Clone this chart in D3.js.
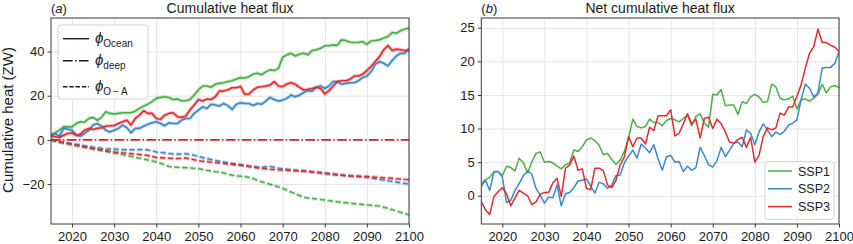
<!DOCTYPE html>
<html>
<head>
<meta charset="utf-8">
<script src="https://cdn.jsdelivr.net/npm/d3@7"></script>
<style>
  body { margin: 0; background: #fff; }
  text { font-family: "Liberation Sans", Arial, sans-serif; fill: #1a1a1a; }
</style>
</head>
<body>
<div id="chart"></div>
<script>
// ---------- DATA ----------
const years = d3.range(2015, 2101);
const xTicks = [2020, 2030, 2040, 2050, 2060, 2070, 2080, 2090, 2100];
const yTicksA = [-20, 0, 20, 40];
const yTicksB = [0, 5, 10, 15, 20, 25];
const scenarios = ["SSP1", "SSP2", "SSP3"];

// panel (a): cumulative ocean heat uptake
const oceanSSP1 = [
	2.1, 3.2, 4.4, 5.9, 5.9, 5.9, 7.4, 8.2, 8.0, 9.7,
	10.2, 8.9, 10.2, 12.7, 12.0, 11.7, 12.0, 12.3, 12.3, 12.3,
	13.0, 14.2, 15.3, 16.2, 17.3, 18.8, 19.2, 19.5, 19.1, 18.3,
	18.5, 17.7, 17.7, 18.3, 20.3, 22.6, 24.4, 24.4, 23.8, 25.2,
	25.6, 25.9, 26.4, 26.8, 27.6, 28.2, 28.0, 28.6, 29.8, 30.2,
	29.5, 30.8, 31.7, 31.4, 32.4, 37.4, 38.5, 39.2, 38.0, 38.8,
	39.2, 38.5, 40.5, 40.8, 41.5, 42.6, 42.7, 43.0, 42.9, 45.3,
	45.0, 44.2, 44.1, 44.2, 44.5, 43.3, 44.8, 45.0, 45.3, 46.1,
	46.8, 48.6, 48.3, 49.4, 50.2, 50.5
];
const oceanSSP2 = [
	2.1, 2.9, 1.7, 5.2, 4.8, 4.4, 2.1, 1.7, 2.9, 4.4,
	6.7, 7.4, 6.2, 4.4, 3.6, 4.4, 5.2, 6.7, 5.5, 3.2,
	5.2, 5.2, 6.2, 7.1, 7.7, 8.2, 7.4, 6.4, 7.7, 7.4,
	7.4, 8.9, 9.7, 9.7, 12.0, 13.5, 15.0, 14.2, 16.1, 15.8,
	15.3, 16.5, 15.5, 13.8, 16.1, 16.8, 16.5, 16.5, 15.6, 16.5,
	16.1, 17.6, 19.2, 18.3, 17.6, 18.0, 18.8, 20.3, 19.5, 20.3,
	21.4, 22.3, 22.1, 23.8, 24.4, 23.3, 24.4, 26.4, 26.4, 25.2,
	25.6, 25.9, 25.9, 26.8, 28.3, 28.9, 30.9, 34.2, 35.5, 34.7,
	33.5, 35.9, 38.0, 39.2, 39.2, 41.5
];
const oceanSSP3 = [
	1.7, 1.4, 1.1, 2.1, 2.9, 3.2, 2.1, 2.6, 4.4, 5.2,
	4.7, 5.2, 5.5, 6.2, 6.4, 6.5, 7.4, 8.2, 8.9, 6.7,
	9.7, 11.2, 13.2, 12.0, 12.0, 9.7, 9.2, 11.2, 12.0, 12.3,
	10.5, 10.2, 10.8, 13.5, 15.8, 18.3, 17.6, 18.5, 18.3, 19.5,
	22.1, 22.1, 22.7, 23.6, 23.6, 24.2, 20.6, 20.8, 22.6, 23.8,
	24.1, 24.4, 24.8, 26.4, 24.4, 24.1, 25.3, 25.9, 25.2, 23.8,
	22.6, 22.9, 23.3, 23.8, 23.3, 20.8, 22.3, 24.4, 26.4, 26.8,
	26.8, 27.4, 28.9, 28.9, 29.8, 31.4, 33.2, 35.5, 37.7, 40.8,
	42.7, 40.5, 41.1, 40.8, 40.5, 40.5
];
const deepFlux = [
	0, 0, 0, 0, 0, 0, 0, 0, 0, 0,
	0, 0, 0, 0, 0, 0, 0, 0, 0, 0,
	0, 0, 0, 0, 0, 0, 0, 0, 0, 0,
	0, 0, 0, 0, 0, 0, 0, 0, 0, 0,
	0, 0, 0, 0, 0, 0, 0, 0, 0, 0,
	0, 0, 0, 0, 0, 0, 0, 0, 0, 0,
	0, 0, 0, 0, 0, 0, 0, 0, 0, 0,
	0, 0, 0, 0, 0, 0, 0, 0, 0, 0,
	0, 0, 0, 0, 0, 0
];
const oaSSP1 = [
	0, -0.4, -1.0, -1.5, -1.9, -2.3, -2.6, -2.9, -3.3, -3.7,
	-4.0, -4.4, -4.8, -5.2, -5.6, -6.0, -6.3, -6.7, -7.1, -7.5,
	-8.0, -8.3, -8.7, -9.1, -9.5, -10.0, -10.6, -11.3, -12.0, -12.2,
	-12.4, -12.5, -12.6, -12.7, -12.9, -13.0, -13.4, -13.8, -14.1, -14.4,
	-14.6, -15.0, -15.5, -16.0, -16.3, -16.5, -16.6, -17.0, -17.5, -18.3,
	-19.0, -19.5, -20.1, -20.7, -21.3, -22.0, -22.8, -23.6, -24.5, -25.2,
	-26.0, -26.3, -26.5, -26.8, -27.0, -27.2, -27.5, -27.8, -28.0, -28.3,
	-28.5, -28.7, -28.9, -29.1, -29.3, -29.5, -29.6, -29.8, -30.0, -30.5,
	-31.0, -31.6, -32.2, -32.8, -33.4, -34.0
];
const oaSSP2 = [
	0, -0.4, -0.8, -1.1, -1.4, -1.8, -2.1, -2.4, -2.7, -3.0,
	-3.3, -3.5, -3.8, -4.0, -4.1, -4.2, -4.3, -4.4, -4.5, -4.5,
	-4.5, -4.4, -4.3, -4.6, -5.0, -5.5, -5.7, -5.9, -6.2, -6.4,
	-6.5, -6.4, -6.3, -6.6, -7.0, -7.5, -8.0, -8.5, -8.9, -9.3,
	-9.7, -10.0, -10.4, -10.7, -11.0, -11.2, -11.5, -11.8, -12.0, -12.3,
	-12.5, -12.2, -12.0, -12.4, -12.8, -13.2, -13.3, -13.5, -13.7, -13.8,
	-14.0, -14.2, -14.4, -14.6, -14.8, -15.0, -15.2, -15.4, -15.6, -15.8,
	-16.0, -16.2, -16.4, -16.6, -16.8, -17.0, -17.3, -17.6, -17.9, -18.2,
	-18.5, -18.8, -19.1, -19.4, -19.7, -20.0
];
const oaSSP3 = [
	0, -0.5, -0.9, -1.3, -1.6, -2.0, -2.4, -2.8, -3.2, -3.6,
	-4.0, -4.3, -4.6, -4.9, -5.2, -5.5, -5.7, -5.9, -6.1, -6.3,
	-6.5, -6.6, -6.7, -7.1, -7.5, -8.0, -8.1, -8.2, -8.3, -8.4,
	-8.5, -8.3, -8.2, -8.6, -9.0, -9.5, -9.7, -9.9, -10.1, -10.3,
	-10.5, -10.7, -10.9, -11.1, -11.3, -11.5, -11.8, -12.1, -12.4, -12.7,
	-13.0, -13.1, -13.3, -13.4, -13.6, -13.7, -13.8, -13.9, -14.0, -14.1,
	-14.2, -14.4, -14.6, -14.8, -15.0, -15.3, -15.5, -15.7, -15.9, -16.1,
	-16.3, -16.4, -16.5, -16.5, -16.6, -16.6, -16.7, -16.9, -17.0, -17.2,
	-17.3, -17.4, -17.6, -17.7, -17.9, -18.0
];

// panel (b): net cumulative heat flux
const netSSP1 = [
	1.8, 2.4, 2.7, 3.6, 3.6, 3.0, 4.4, 4.2, 3.7, 5.6,
	4.9, 3.4, 5.0, 6.3, 6.5, 5.0, 5.1, 4.9, 4.4, 4.0,
	4.6, 4.9, 6.8, 6.6, 7.3, 8.3, 8.6, 8.2, 7.5, 6.1,
	6.3, 5.4, 4.7, 5.3, 6.6, 8.6, 11.4, 10.3, 10.1, 10.3,
	11.4, 10.9, 10.9, 10.4, 11.2, 11.5, 11.3, 11.0, 11.5, 12.0,
	10.4, 11.8, 12.2, 10.8, 10.2, 15.1, 15.0, 15.8, 13.4, 13.5,
	13.5, 12.1, 14.0, 13.7, 14.7, 15.1, 14.7, 13.9, 14.0, 16.6,
	16.2, 14.5, 14.3, 14.4, 14.8, 12.9, 14.3, 14.4, 14.1, 14.5,
	15.1, 16.6, 15.3, 16.2, 16.4, 16.1
];
const netSSP2 = [
	1.4, 2.3, 0.8, 3.5, 3.6, 2.8, -1.0, -0.7, 0.8, 1.8,
	3.0, 3.7, 3.2, 1.1, 0.1, -1.1, -0.2, -0.3, 1.6, -1.5,
	0.3, 0.5, 1.2, 2.2, 2.3, 2.5, 1.4, 0.4, 2.0, 1.8,
	1.1, 1.6, 3.0, 3.1, 4.9, 5.9, 6.8, 5.6, 7.7, 7.1,
	6.4, 7.6, 5.5, 3.8, 5.8, 6.0, 5.0, 5.1, 3.6, 4.4,
	3.8, 4.2, 7.2, 6.0, 4.6, 4.3, 5.2, 7.2, 5.8, 6.8,
	7.8, 8.0, 7.3, 9.8, 9.3, 7.6, 9.5, 10.7, 9.8, 8.8,
	9.5, 9.1, 9.6, 10.5, 10.8, 11.3, 14.3, 16.6, 16.0, 14.7,
	15.3, 19.0, 19.1, 19.1, 19.7, 21.4
];
const netSSP3 = [
	-0.9, -2.1, -2.8, -0.1, 0.6, 1.2, 0.3, -1.5, -0.3, 0.8,
	0.4, 0.0, -1.3, -0.9, 0.2, 0.5, 0.5, 1.9, 2.6, -0.1,
	4.1, 4.6, 5.9, 3.8, 4.0, 1.1, 0.9, 4.1, 4.1, 3.7,
	1.6, 1.2, 2.3, 4.6, 5.8, 8.8, 7.3, 8.6, 8.6, 7.7,
	10.2, 9.7, 11.9, 11.9, 11.9, 12.8, 8.9, 9.3, 10.7, 12.2,
	10.7, 11.4, 8.6, 11.5, 11.7, 10.0, 11.4, 10.7, 9.5, 8.0,
	7.8, 8.4, 8.7, 7.2, 8.7, 5.0, 6.0, 8.8, 10.1, 9.8,
	10.1, 12.3, 12.0, 13.2, 13.2, 14.8, 16.5, 19.0, 21.2, 22.2,
	24.8, 22.8, 22.8, 22.4, 22.1, 21.5
];

const colors = ["#4aae48", "#3a88c8", "#e42a2f"];
const deepColor = "#bf2f37";

// ---------- CHART ----------
const width = 853;
const height = 244;
const svg = d3
	.select("#chart")
	.append("svg")
	.attr("width", width)
	.attr("height", height);

function drawPanel(opts) {
	const x = d3.scaleLinear().domain([2015, 2100]).range([opts.left, opts.right]);
	const y = d3.scaleLinear().domain(opts.yDomain).range([opts.bottom, opts.top]);
	const g = svg.append("g");

	// grid
	g.append("g")
		.attr("transform", `translate(0, ${opts.bottom})`)
		.call(d3.axisBottom(x).tickValues(xTicks).tickSize(-(opts.bottom - opts.top)).tickFormat(""))
		.call((a) => a.select(".domain").remove())
		.selectAll("line")
		.attr("stroke", "#e3e3e3")
		.attr("stroke-width", 1);
	g.append("g")
		.attr("transform", `translate(${opts.left}, 0)`)
		.call(d3.axisLeft(y).tickValues(opts.yTicks).tickSize(-(opts.right - opts.left)).tickFormat(""))
		.call((a) => a.select(".domain").remove())
		.selectAll("line")
		.attr("stroke", "#e3e3e3")
		.attr("stroke-width", 1);

	const clipId = "clip-" + opts.id;
	svg.append("clipPath")
		.attr("id", clipId)
		.append("rect")
		.attr("x", opts.left)
		.attr("y", opts.top)
		.attr("width", opts.right - opts.left)
		.attr("height", opts.bottom - opts.top);

	const lineGen = d3
		.line()
		.x((d, i) => x(years[i]))
		.y((d) => y(d));
	const linesG = g.append("g").attr("clip-path", `url(#${clipId})`);

	opts.series.forEach((s) => {
		if (s.halo) {
			linesG.append("path")
				.datum(s.values)
				.attr("fill", "none")
				.attr("stroke", s.color)
				.attr("stroke-opacity", 0.3)
				.attr("stroke-width", 3.6)
				.attr("stroke-dasharray", s.dash || null)
				.attr("d", lineGen);
		}
		linesG.append("path")
			.datum(s.values)
			.attr("fill", "none")
			.attr("stroke", s.color)
			.attr("stroke-width", s.width || 1.5)
			.attr("stroke-dasharray", s.dash || null)
			.attr("stroke-linejoin", "round")
			.attr("d", lineGen);
	});

	// frame
	g.append("rect")
		.attr("x", opts.left)
		.attr("y", opts.top)
		.attr("width", opts.right - opts.left)
		.attr("height", opts.bottom - opts.top)
		.attr("fill", "none")
		.attr("stroke", "#3a3a3a")
		.attr("stroke-width", 1);

	// axes
	const xAxis = g.append("g")
		.attr("transform", `translate(0, ${opts.bottom})`)
		.call(d3.axisBottom(x).tickValues(xTicks).tickSize(3.5).tickPadding(4.5).tickFormat(d3.format("d")));
	const yAxis = g.append("g")
		.attr("transform", `translate(${opts.left}, 0)`)
		.call(d3.axisLeft(y).tickValues(opts.yTicks).tickSize(3.5).tickPadding(3)
			.tickFormat((d) => (d < 0 ? "\u2212" + Math.abs(d) : d)));
	[xAxis, yAxis].forEach((a) => {
		a.select(".domain").remove();
		a.selectAll("line").attr("stroke", "#3a3a3a");
		a.selectAll("text")
			.style("font-family", '"Liberation Sans", Arial, sans-serif')
			.style("font-size", "13px")
			.attr("fill", "#1a1a1a");
	});

	// titles
	const lab = svg.append("text").attr("x", opts.left).attr("y", 12.5).style("font-size", "13px");
	lab.append("tspan").text("(");
	lab.append("tspan").style("font-style", "italic").text(opts.letter);
	lab.append("tspan").text(")");
	svg.append("text")
		.attr("x", (opts.left + opts.right) / 2)
		.attr("y", 12.5)
		.attr("text-anchor", "middle")
		.style("font-size", "14px")
		.text(opts.title);

	return { x, y, g };
}

// panel (a)
const seriesA = [];
[oceanSSP1, oceanSSP2, oceanSSP3].forEach((v, i) =>
	seriesA.push({ values: v, color: colors[i], halo: true, width: 1.6 })
);
[oaSSP1, oaSSP2, oaSSP3].forEach((v, i) =>
	seriesA.push({ values: v, color: colors[i], halo: true, width: 1.4, dash: "5.5,2.4" })
);
seriesA.push({ values: deepFlux, color: deepColor, width: 1.6, dash: "9.6,2.4,1.5,2.4" });

drawPanel({
	id: "a",
	left: 51,
	right: 409,
	top: 18,
	bottom: 224,
	yDomain: [-38.1, 55.2],
	yTicks: yTicksA,
	letter: "a",
	title: "Cumulative heat flux",
	series: seriesA,
});

svg.append("text")
	.attr("transform", "translate(12.5, 120) rotate(-90)")
	.attr("text-anchor", "middle")
	.style("font-size", "15px")
	.text("Cumulative heat (ZW)");

// legend (a)
const legA = svg.append("g");
legA.append("rect")
	.attr("x", 58)
	.attr("y", 25)
	.attr("width", 90)
	.attr("height", 74)
	.attr("rx", 3)
	.attr("fill", "#fff")
	.attr("fill-opacity", 0.85)
	.attr("stroke", "#d0d0d0");
const legItemsA = [
	{ sub: "Ocean", dash: null, yy: 38.7 },
	{ sub: "deep", dash: "9.6,2.4,1.5,2.4", yy: 60.7 },
	{ sub: "O\u2009\u2212\u2009A", dash: "4.5,1.8", yy: 86.7 },
];
legItemsA.forEach((d) => {
	legA.append("line")
		.attr("x1", 63)
		.attr("x2", 89)
		.attr("y1", d.yy)
		.attr("y2", d.yy)
		.attr("stroke", "#1a1a1a")
		.attr("stroke-width", 1.4)
		.attr("stroke-dasharray", d.dash);
	const t = legA.append("text").attr("x", 95).attr("y", d.yy + 4.5);
	t.append("tspan").style("font-style", "italic").style("font-size", "15px").text("\u03d5");
	t.append("tspan").attr("dy", 3.5).style("font-size", "10px").text(d.sub);
});

// panel (b)
drawPanel({
	id: "b",
	left: 481.3,
	right: 839,
	top: 18,
	bottom: 224,
	yDomain: [-4.2, 26.45],
	yTicks: yTicksB,
	letter: "b",
	title: "Net cumulative heat flux",
	series: [netSSP1, netSSP2, netSSP3].map((v, i) => ({ values: v, color: colors[i], width: 1.5 })),
});

// legend (b)
const legB = svg.append("g");
legB.append("rect")
	.attr("x", 765)
	.attr("y", 161.7)
	.attr("width", 69)
	.attr("height", 57.6)
	.attr("rx", 3)
	.attr("fill", "#fff")
	.attr("fill-opacity", 0.85)
	.attr("stroke", "#d0d0d0");
scenarios.forEach((name, i) => {
	const yy = 171 + i * 17.8;
	legB.append("line")
		.attr("x1", 768)
		.attr("x2", 792)
		.attr("y1", yy)
		.attr("y2", yy)
		.attr("stroke", colors[i])
		.attr("stroke-width", 1.5);
	legB.append("text")
		.attr("x", 798)
		.attr("y", yy + 4.5)
		.style("font-size", "12.5px")
		.text(name);
});
</script>
</body>
</html>
